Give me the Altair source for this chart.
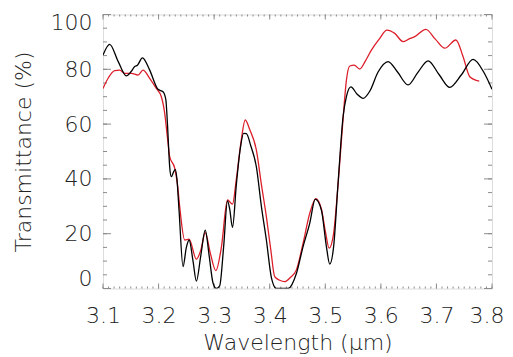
import altair as alt
import pandas as pd

# Black curve (wavelength in micrometres, transmittance in %)
black_w = [3.100, 3.112, 3.127, 3.142, 3.150, 3.157, 3.162, 3.171, 3.184, 3.199, 3.208, 3.213,
           3.216, 3.220, 3.223, 3.227, 3.230, 3.233, 3.237, 3.244, 3.250, 3.255, 3.262, 3.268,
           3.276, 3.284, 3.291, 3.298, 3.304, 3.310, 3.317, 3.324, 3.328, 3.333, 3.340, 3.347,
           3.353, 3.358, 3.366, 3.376, 3.385, 3.394, 3.403, 3.412, 3.433, 3.448, 3.460, 3.472,
           3.482, 3.493, 3.502, 3.508, 3.515, 3.523, 3.532, 3.538, 3.546, 3.557, 3.568, 3.580,
           3.595, 3.613, 3.630, 3.649, 3.667, 3.685, 3.705, 3.724, 3.745, 3.766, 3.785, 3.800]
black_t = [85.2, 89.1, 83.0, 77.6, 79.0, 81.0, 81.5, 84.2, 79.7, 72.7, 71.8, 69.0,
           60.0, 44.4, 40.8, 42.5, 43.5, 40.0, 28.0, 8.0, 15.0, 17.7, 10.0, 2.7,
           12.0, 21.3, 12.0, 2.0, 0.0, 1.0, 15.0, 32.0, 29.0, 22.3, 38.0, 51.0,
           56.6, 56.5, 52.0, 44.4, 30.0, 17.7, 4.0, 0.0, 0.0, 5.5, 15.3, 23.8,
           32.6, 28.6, 15.3, 8.9, 15.3, 38.4, 62.7, 70.0, 73.6, 71.0, 69.4, 72.0,
           79.0, 82.8, 79.0, 74.3, 79.0, 83.1, 78.0, 73.4, 78.0, 83.6, 79.0, 72.7]

# Red curve
red_w = [3.100, 3.110, 3.121, 3.130, 3.139, 3.151, 3.163, 3.172, 3.184, 3.196, 3.205, 3.211,
         3.216, 3.220, 3.229, 3.234, 3.238, 3.247, 3.255, 3.268, 3.276, 3.284, 3.293, 3.303,
         3.313, 3.324, 3.333, 3.340, 3.348, 3.356, 3.364, 3.376, 3.385, 3.394, 3.402, 3.409,
         3.418, 3.427, 3.437, 3.448, 3.460, 3.472, 3.483, 3.493, 3.500, 3.507, 3.515, 3.523,
         3.532, 3.538, 3.544, 3.552, 3.562, 3.572, 3.583, 3.597, 3.611, 3.625, 3.640, 3.650,
         3.661, 3.681, 3.698, 3.715, 3.735, 3.748, 3.760, 3.777]
red_t = [73.0, 77.0, 79.5, 79.7, 78.5, 78.5, 77.9, 79.7, 76.7, 73.0, 70.0, 64.0,
         55.0, 48.1, 43.9, 38.0, 29.9, 17.7, 18.0, 10.7, 14.0, 20.4, 13.0, 6.5,
         15.0, 32.3, 30.8, 40.0, 53.0, 61.5, 58.0, 50.5, 38.0, 26.2, 14.0, 4.3,
         3.0, 2.5, 4.0, 6.8, 16.5, 27.4, 32.8, 29.0, 21.0, 14.7, 20.1, 38.0,
         62.0, 76.0, 81.2, 81.5, 80.1, 83.0, 87.0, 91.0, 94.3, 93.1, 90.1, 91.0,
         91.9, 94.6, 91.0, 87.7, 90.7, 84.6, 77.3, 75.7]

x_labels_main = [3.1, 3.2, 3.3, 3.4, 3.5, 3.6, 3.7]
x_label_last = [3.8]
x_major = [3.1, 3.2, 3.3, 3.4, 3.5, 3.6, 3.7, 3.8]
x_minor = [round(3.1 + 0.01 * i, 2) for i in range(71)]
y_major = [0, 20, 40, 60, 80, 100]
y_minor = [5 * i for i in range(21)]

W, H = 389, 274
AX = "#8c8c8c"
FONT = "DejaVu Sans"
TXT = "#222222"
FS = 22
FW = 200

black_df = pd.DataFrame({"w": black_w, "t": black_t})
red_df = pd.DataFrame({"w": red_w, "t": red_t})

xs = alt.Scale(domain=[3.1, 3.8], nice=False, zero=False)
ys = alt.Scale(domain=[0, 100], nice=False, zero=False)

label_x = alt.Axis(orient="bottom", values=x_labels_main, format=".1f", ticks=False, tickSize=0,
                   labelPadding=17, labelFlush=False, title="Wavelength (\u03bcm)", titlePadding=6,
                   domain=False, grid=False,
                   labelFont=FONT, labelFontSize=FS, labelColor=TXT, labelFontWeight=FW,
                   titleFont=FONT, titleFontSize=FS, titleColor=TXT, titleFontWeight=FW)
label_x_last = alt.Axis(orient="bottom", values=x_label_last, format=".1f", ticks=False, tickSize=0,
                        labelPadding=17, labelFlush=True, labelFlushOffset=12, title=None,
                        domain=False, grid=False,
                        labelFont=FONT, labelFontSize=FS, labelColor=TXT, labelFontWeight=FW)
label_y = alt.Axis(orient="left", values=y_major, ticks=False, tickSize=0,
                   labelPadding=11, labelFlush=True, labelFlushOffset=2,
                   title="Transmittance (%)", titlePadding=15,
                   domain=False, grid=False,
                   labelFont=FONT, labelFontSize=FS, labelColor=TXT, labelFontWeight=FW,
                   titleFont=FONT, titleFontSize=FS, titleColor=TXT, titleFontWeight=FW)


def curve(df, color, xaxis=None, yaxis=None, opacity=1):
    return alt.Chart(df).mark_line(color=color, strokeWidth=1.3, opacity=opacity,
                                   interpolate="monotone", clip=True).encode(
        x=alt.X("w:Q", scale=xs, axis=xaxis),
        y=alt.Y("t:Q", scale=ys, axis=yaxis),
    )


def xticks(values, y0, y1):
    return alt.Chart(pd.DataFrame({"w": values})).mark_rule(color=AX, strokeWidth=1).encode(
        x=alt.X("w:Q", scale=xs, axis=None),
        y=alt.value(y0), y2=alt.value(y1))


def yticks(values, x0, x1):
    return alt.Chart(pd.DataFrame({"t": values})).mark_rule(color=AX, strokeWidth=1).encode(
        y=alt.Y("t:Q", scale=ys, axis=None),
        x=alt.value(x0), x2=alt.value(x1))


layers = [
    curve(black_df, "#000000", label_x, label_y, opacity=0),
    curve(black_df, "#000000", label_x_last, None, opacity=0),
    xticks(x_minor, H, H - 2), xticks(x_major, H, H - 5),
    xticks(x_minor, 0, 2), xticks(x_major, 0, 5),
    yticks(y_minor, 0, 4), yticks(y_major, 0, 8),
    yticks(y_minor, W, W - 4), yticks(y_major, W, W - 8),
    curve(red_df, "#dc1f2a"),
    curve(black_df, "#000000"),
]

chart = alt.layer(*layers).resolve_axis(x="independent", y="independent").properties(
    width=W, height=H,
    autosize=alt.AutoSizeParams(type="none"),
    padding={"left": 95, "top": 6.5, "right": 13, "bottom": 70},
).configure_view(stroke=AX, strokeWidth=1).configure(background="white")

chart.save("out.html", embed_options={"renderer": "svg", "actions": False})
